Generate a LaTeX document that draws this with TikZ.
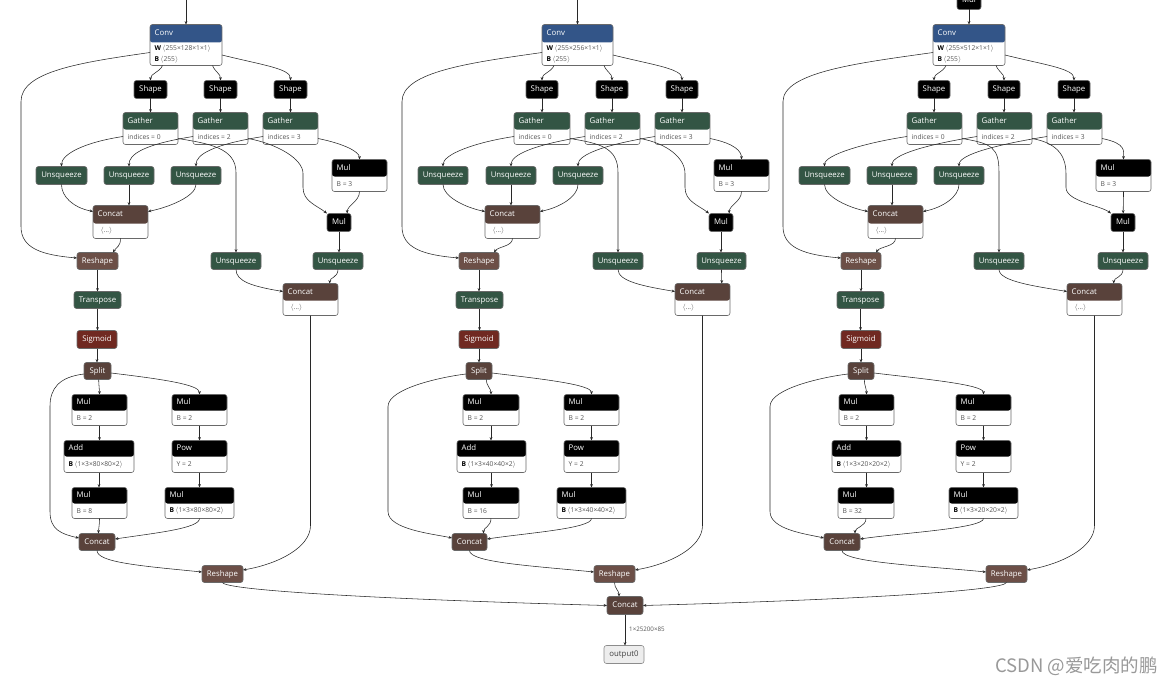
\documentclass[tikz,border=0pt]{standalone}
\usepackage{fontspec}
\setmainfont{Open Sans}
\newfontfamily\cjk{Noto Sans CJK SC}
\usetikzlibrary{arrows.meta,calc}
\definecolor{convblue}{RGB}{51,85,136}
\definecolor{tgreen}{RGB}{51,85,68}
\definecolor{sbrown}{RGB}{108,79,71}
\definecolor{tbrown}{RGB}{89,66,59}
\definecolor{ared}{RGB}{112,41,33}
\definecolor{bodygray}{RGB}{85,85,85}
\definecolor{nborder}{RGB}{105,105,105}
\definecolor{edgecol}{RGB}{40,40,40}
\newcommand\tfont{\fontsize{7.8}{9}\selectfont}
\newcommand\bfont{\fontsize{6.7}{11}\selectfont}
\newcommand\attr[2]{\textbf{\textcolor{black}{#1}}\,{$\langle$}#2{$\rangle$}}
\newcommand\dotsbody{\hspace{3pt}{$\langle$}\dots{$\rangle$}}
% header node: name, left, top, right, header-bottom, bottom, colour, title, body
\newcommand\hnode[9]{%
  \pgfmathsetmacro\hnW{#4-#2}%
  \pgfmathsetmacro\hnH{#6-#3}%
  \pgfmathsetmacro\hnX{(#2+#4)/2}%
  \pgfmathsetmacro\hnY{(#3+#6)/2}%
  \pgfmathsetmacro\hnT{(#3+#5)/2}%
  \pgfmathsetmacro\hnB{(#5+#6)/2}%
  \pgfmathsetmacro\hnHH{#5-#3}%
  \node[hbox, minimum width=\hnW pt, minimum height=\hnH pt,
    path picture={\fill[#7] (path picture bounding box.north west) rectangle ([yshift=-\hnHH pt]path picture bounding box.north east);}]
    (#1) at (\hnX,\hnY) {};
  \node[htitle] at (#2+4.5,\hnT) {#8};
  \node[hbody] at (#2+4.5,\hnB) {#9};
}
% simple node: name, left, top, right, bottom, colour, text
\newcommand\snode[7]{%
  \pgfmathsetmacro\snW{#4-#2}%
  \pgfmathsetmacro\snH{#5-#3}%
  \pgfmathsetmacro\snX{(#2+#4)/2}%
  \pgfmathsetmacro\snY{(#3+#5)/2}%
  \node[sbox, fill=#6, minimum width=\snW pt, minimum height=\snH pt] (#1) at (\snX,\snY) {#7};
}
% edges of one column: suffix, x of Conv-Reshape curve, x of Split-Concat curve, x of Gather-Mul line, offset at Concat
\newcommand\coledges[5]{%
  \draw[conn] ($(shA#1.north|-conv#1.south)+(12,0)$) .. controls +(-3,7) and +(0,-7) .. (shA#1.north);
  \draw[conn] ($(shB#1.north|-conv#1.south)+(-8,0)$) .. controls +(3,7) and +(0,-7) .. (shB#1.north);
  \draw[conn] ($(conv#1.east)+(0,10)$) .. controls +(40,10) and +(0,-12) .. (shC#1.north);
  \draw[conn] ($(conv#1.west)+(0,7.5)$) .. controls +(-70,10) and +(0,-30) .. (#2,100) -- (#2,225) .. controls +(0,22) and +(-35,-3) .. ($(rs#1.west)+(0,-3)$);
  \draw[conn] (shA#1.south) -- (shA#1.south|-gA#1.north);
  \draw[conn] (shB#1.south) -- (shB#1.south|-gB#1.north);
  \draw[conn] (shC#1.south) -- (shC#1.south|-gC#1.north);
  \draw[conn] ($(gA#1.west)+(0,8)$) .. controls +(-40,6) and +(0,-12) .. (uA#1.north);
  \draw[conn] ($(gB#1.west)+(0,8)$) .. controls +(-50,8) and +(0,-12) .. (uB#1.north);
  \draw[conn] ($(gC#1.west)+(0,8)$) .. controls +(-50,8) and +(0,-12) .. (uC#1.north);
  \draw[conn] ($(gA#1.east)+(0,10)$) .. controls +(30,5) and +(0,-25) .. ($(uD#1.north)+(0,-80)$) -- (uD#1.north);
  \draw[conn] ($(gB#1.east)+(0,10)$) .. controls +(28,5) and +(0,-15) .. (#4,172) -- (#4,186) .. controls +(0,14) and +(-10,-8) .. (mS#1.north west);
  \draw[conn] ($(gC#1.east)+(0,10)$) .. controls +(25,5) and +(0,-8) .. (mB#1.north);
  \draw[conn] (uA#1.south) .. controls +(0,12) and +(-20,-4) .. ($(cat#1.north west)+(0,6)$);
  \draw[conn] (uB#1.south) -- (uB#1.south|-cat#1.north);
  \draw[conn] (uC#1.south) .. controls +(0,12) and +(20,-4) .. ($(cat#1.north east)+(0,6)$);
  \draw[conn] (cat#1.south) .. controls +(0,8) and +(4,-6) .. ($(rs#1.north)!0.75!(rs#1.north east)$);
  \draw[conn] (mB#1.south) .. controls +(0,10) and +(0,-8) .. ($(mS#1.north)!0.4!(mB#1.south|-mS#1.north)$);
  \draw[conn] (mS#1.south) -- (mS#1.south|-uE#1.north);
  \draw[conn] (uD#1.south) .. controls +(0,12) and +(-30,-5) .. ($(catB#1.north west)+(0,8)$);
  \draw[conn] (uE#1.south) .. controls +(0,8) and +(0,-6) .. ($(catB#1.north)!0.7!(catB#1.north east)$);
  \draw[conn] (rs#1.south) -- (rs#1.south|-tr#1.north);
  \draw[conn] (tr#1.south) -- (tr#1.south|-sg#1.north);
  \draw[conn] (sg#1.south) -- (sg#1.south|-sp#1.north);
  \draw[conn] ($(sp#1.south)!0.6!(mL#1.north|-sp#1.south)$) .. controls +(0,6) and +(0,-6) .. (mL#1.north);
  \draw[conn] ($(sp#1.east)+(0,2)$) .. controls +(50,6) and +(0,-10) .. (mR#1.north);
  \draw[conn] ($(sp#1.west)+(0,3)$) .. controls +(-25,3) and +(0,-18) .. (#3,405) -- (#3,510) .. controls +(0,18) and +(-18,-4) .. ($(catO#1.west)+(0,-4)$);
  \draw[conn] (mL#1.south) -- (mL#1.south|-add#1.north);
  \draw[conn] (add#1.south) -- (add#1.south|-mG#1.north);
  \draw[conn] (mG#1.south) .. controls +(0,8) and +(0,-6) .. ($(catO#1.north)+(#5,0)$);
  \draw[conn] (mR#1.south) -- (mR#1.south|-pow#1.north);
  \draw[conn] (pow#1.south) -- (pow#1.south|-mA#1.north);
  \draw[conn] (mA#1.south) .. controls +(0,10) and +(40,-6) .. ($(catO#1.east)+(0,-3)$);
  \draw[conn] (catO#1.south) .. controls +(0,12) and +(-60,-6) .. ($(rsO#1.west)+(0,-2)$);
  \draw[conn] (catB#1.south) -- ($(catB#1.south|-rsO#1.north)+(0,-40)$) .. controls +(0,22) and +(35,-6) .. ($(rsO#1.east)+(0,-4)$);
}
\begin{document}
\begin{tikzpicture}[x=1pt,y=-1pt,
  hbox/.style={draw=nborder, fill=white, rounded corners=2.5pt, inner sep=0pt, outer sep=0pt, line width=0.6pt},
  sbox/.style={draw=nborder, rounded corners=2.5pt, inner sep=0pt, outer sep=0pt, line width=0.6pt, text=white, font=\tfont, text height=5.4pt, text depth=1.2pt},
  htitle/.style={anchor=west, inner sep=0pt, text=white, font=\tfont, text height=5.4pt, text depth=1.2pt},
  hbody/.style={anchor=west, inner sep=0pt, text=bodygray, font=\bfont, align=left},
  conn/.style={draw=edgecol, line width=0.55pt, -{Stealth[length=3.4pt,width=2.8pt]}}]
\fill[white] (0,0) rectangle (1171,685);
\useasboundingbox (0,0) rectangle (1171,685);
\begin{scope}[yshift=-1.5pt]
% ---------------- column a ----------------
\hnode{conva}{150}{23}{222}{41}{64}{convblue}{Conv}{\attr{W}{255×128×1×1}\\\attr{B}{255}}
\snode{shAa}{134}{79}{167}{97}{black}{Shape}
\snode{shBa}{204}{79}{237}{97}{black}{Shape}
\snode{shCa}{274}{79}{307}{97}{black}{Shape}
\hnode{gAa}{123}{111}{178}{128}{143}{tgreen}{Gather}{indices = 0}
\hnode{gBa}{193}{111}{248}{128}{143}{tgreen}{Gather}{indices = 2}
\hnode{gCa}{263}{111}{318}{128}{143}{tgreen}{Gather}{indices = 3}
\snode{uAa}{36}{165}{87}{183}{tgreen}{Unsqueeze}
\snode{uBa}{104}{165}{154}{183}{tgreen}{Unsqueeze}
\snode{uCa}{171}{165}{221}{183}{tgreen}{Unsqueeze}
\hnode{cata}{93}{204}{148}{222}{237}{tbrown}{Concat}{\dotsbody}
\hnode{mBa}{332}{158}{387}{175}{190}{black}{Mul}{B = 3}
\snode{mSa}{327}{212}{351}{230}{black}{Mul}
\snode{rsa}{77}{251}{118}{268}{sbrown}{Reshape}
\snode{uDa}{211}{251}{261}{268}{tgreen}{Unsqueeze}
\snode{uEa}{313}{251}{363}{268}{tgreen}{Unsqueeze}
\snode{tra}{74}{290}{121}{307}{tgreen}{Transpose}
\snode{sga}{77}{329}{117}{347}{ared}{Sigmoid}
\snode{spa}{84}{361}{111}{378}{tbrown}{Split}
\hnode{catBa}{283}{282}{338}{299}{314}{tbrown}{Concat}{\dotsbody}
\hnode{mLa}{72}{393}{127}{409}{424}{black}{Mul}{B = 2}
\hnode{mRa}{172}{393}{227}{409}{424}{black}{Mul}{B = 2}
\hnode{adda}{64}{439}{134}{455}{471}{black}{Add}{\attr{B}{1×3×80×80×2}}
\hnode{powa}{172}{439}{227}{455}{471}{black}{Pow}{Y = 2}
\hnode{mGa}{72}{486}{127}{502}{517}{black}{Mul}{B = 8}
\hnode{mAa}{165}{486}{234}{502}{517}{black}{Mul}{\attr{B}{1×3×80×80×2}}
\snode{catOa}{79}{532}{115}{549}{tbrown}{Concat}
\snode{rsOa}{202}{564}{243}{581}{sbrown}{Reshape}

% ---------------- column b ----------------
\hnode{convb}{542}{23}{613}{41}{64}{convblue}{Conv}{\attr{W}{255×256×1×1}\\\attr{B}{255}}
\snode{shAb}{526}{79}{558}{97}{black}{Shape}
\snode{shBb}{596}{79}{628}{97}{black}{Shape}
\snode{shCb}{666}{79}{698}{97}{black}{Shape}
\hnode{gAb}{514}{111}{570}{128}{143}{tgreen}{Gather}{indices = 0}
\hnode{gBb}{585}{111}{640}{128}{143}{tgreen}{Gather}{indices = 2}
\hnode{gCb}{655}{111}{710}{128}{143}{tgreen}{Gather}{indices = 3}
\snode{uAb}{418}{165}{468}{183}{tgreen}{Unsqueeze}
\snode{uBb}{486}{165}{536}{183}{tgreen}{Unsqueeze}
\snode{uCb}{553}{165}{603}{183}{tgreen}{Unsqueeze}
\hnode{catb}{485}{204}{540}{222}{237}{tbrown}{Concat}{\dotsbody}
\hnode{mBb}{714}{158}{769}{175}{190}{black}{Mul}{B = 3}
\snode{mSb}{709}{212}{733}{230}{black}{Mul}
\snode{rsb}{459}{251}{499}{268}{sbrown}{Reshape}
\snode{uDb}{593}{251}{643}{268}{tgreen}{Unsqueeze}
\snode{uEb}{697}{251}{746}{268}{tgreen}{Unsqueeze}
\snode{trb}{456}{290}{503}{307}{tgreen}{Transpose}
\snode{sgb}{459}{329}{499}{347}{ared}{Sigmoid}
\snode{spb}{466}{361}{492}{378}{tbrown}{Split}
\hnode{catBb}{675}{282}{730}{299}{314}{tbrown}{Concat}{\dotsbody}
\hnode{mLb}{463}{393}{519}{409}{424}{black}{Mul}{B = 2}
\hnode{mRb}{564}{393}{619}{409}{424}{black}{Mul}{B = 2}
\hnode{addb}{457}{439}{526}{455}{471}{black}{Add}{\attr{B}{1×3×40×40×2}}
\hnode{powb}{564}{439}{619}{455}{471}{black}{Pow}{Y = 2}
\hnode{mGb}{463}{486}{519}{502}{517}{black}{Mul}{B = 16}
\hnode{mAb}{557}{486}{626}{502}{517}{black}{Mul}{\attr{B}{1×3×40×40×2}}
\snode{catOb}{452}{532}{487}{549}{tbrown}{Concat}
\snode{rsOb}{594}{564}{635}{581}{sbrown}{Reshape}

% ---------------- column c ----------------
\snode{mTc}{957}{-10}{981}{8}{black}{Mul}
\hnode{convc}{933}{23}{1005}{41}{64}{convblue}{Conv}{\attr{W}{255×512×1×1}\\\attr{B}{255}}
\snode{shAc}{918}{79}{950}{97}{black}{Shape}
\snode{shBc}{988}{79}{1020}{97}{black}{Shape}
\snode{shCc}{1058}{79}{1090}{97}{black}{Shape}
\hnode{gAc}{907}{111}{962}{128}{143}{tgreen}{Gather}{indices = 0}
\hnode{gBc}{977}{111}{1032}{128}{143}{tgreen}{Gather}{indices = 2}
\hnode{gCc}{1047}{111}{1102}{128}{143}{tgreen}{Gather}{indices = 3}
\snode{uAc}{799}{165}{850}{183}{tgreen}{Unsqueeze}
\snode{uBc}{867}{165}{917}{183}{tgreen}{Unsqueeze}
\snode{uCc}{934}{165}{984}{183}{tgreen}{Unsqueeze}
\hnode{catc}{868}{204}{923}{222}{237}{tbrown}{Concat}{\dotsbody}
\hnode{mBc}{1096}{158}{1151}{175}{190}{black}{Mul}{B = 3}
\snode{mSc}{1111}{212}{1135}{230}{black}{Mul}
\snode{rsc}{841}{251}{881}{268}{sbrown}{Reshape}
\snode{uDc}{974}{251}{1024}{268}{tgreen}{Unsqueeze}
\snode{uEc}{1098}{251}{1148}{268}{tgreen}{Unsqueeze}
\snode{trc}{837}{290}{884}{307}{tgreen}{Transpose}
\snode{sgc}{841}{329}{881}{347}{ared}{Sigmoid}
\snode{spc}{848}{361}{874}{378}{tbrown}{Split}
\hnode{catBc}{1067}{282}{1122}{299}{314}{tbrown}{Concat}{\dotsbody}
\hnode{mLc}{839}{393}{894}{409}{424}{black}{Mul}{B = 2}
\hnode{mRc}{956}{393}{1011}{409}{424}{black}{Mul}{B = 2}
\hnode{addc}{832}{439}{901}{455}{471}{black}{Add}{\attr{B}{1×3×20×20×2}}
\hnode{powc}{956}{439}{1011}{455}{471}{black}{Pow}{Y = 2}
\hnode{mGc}{838}{486}{894}{502}{517}{black}{Mul}{B = 32}
\hnode{mAc}{949}{486}{1018}{502}{517}{black}{Mul}{\attr{B}{1×3×20×20×2}}
\snode{catOc}{824}{532}{860}{549}{tbrown}{Concat}
\snode{rsOc}{986}{564}{1027}{581}{sbrown}{Reshape}

% ---------------- final ----------------
\snode{catF}{607}{595}{643}{613}{tbrown}{Concat}
\node[sbox, fill=black!7, draw=black!45, text=black!75, minimum width=40pt, minimum height=18pt] (outp) at (624,653) {output0};
\node[anchor=west, inner sep=0pt, font=\fontsize{6.2}{7}\selectfont, text=bodygray] (shp) at (629,628) {1×25200×85};

% ---------------- connectors ----------------
\coordinate (ina) at (186,-4);
\coordinate (inb) at (577.5,-4);
\draw[conn] (ina) -- (ina|-conva.north);
\draw[conn] (inb) -- (inb|-convb.north);
\draw[conn] (mTc.south) -- (mTc.south|-convc.north);
\coledges{a}{21}{50}{303}{1.5}
\coledges{b}{402}{388}{685}{14}
\coledges{c}{783}{770}{1066}{13}
\draw[conn] (rsOa.south) .. controls +(3,8) and +(-220,-6) .. (catF.west);
\draw[conn] (rsOb.south) .. controls +(0,6) and +(0,-6) .. ($(catF.north)+(-6,0)$);
\draw[conn] (rsOc.south) .. controls +(-3,8) and +(220,-6) .. (catF.east);
\draw[conn] (catF.south) -- (catF.south|-outp.north);
\end{scope}
\node[font=\cjk\fontsize{18.5}{19}\selectfont, text=black!40, anchor=east, inner sep=0pt] (wm) at (1158,666) {CSDN @爱吃肉的鹏};
\end{tikzpicture}
\end{document}
